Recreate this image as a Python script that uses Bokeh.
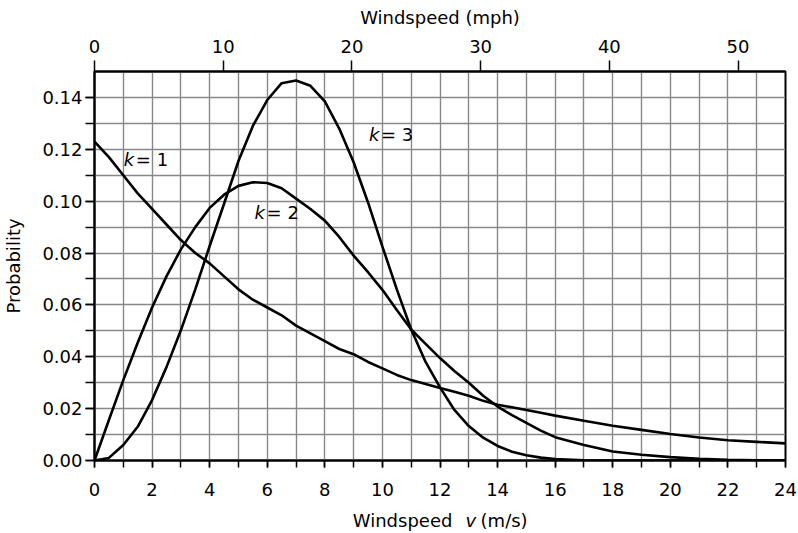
from bokeh.plotting import figure
from bokeh.layouts import column
from bokeh.models import (Range1d, LinearAxis, SingleIntervalTicker, FixedTicker,
                          NumeralTickFormatter, Label)
from bokeh.embed import file_html
from bokeh.resources import INLINE

# Windspeed (m/s)
speed = [0, 0.5, 1, 1.5, 2, 2.5, 3, 3.5, 4, 4.5, 5, 5.5, 6, 6.5, 7, 7.5, 8, 8.5,
         9, 9.5, 10, 10.5, 11, 11.5, 12, 12.5, 13, 13.5, 14, 14.5, 15, 15.5, 16,
         17, 18, 19, 20, 21, 22, 23, 24]

prob_k1 = [0.123, 0.117, 0.110, 0.103, 0.097, 0.091, 0.085, 0.080, 0.076, 0.071,
           0.066, 0.062, 0.059, 0.056, 0.052, 0.049, 0.046, 0.043, 0.041, 0.038,
           0.0355, 0.033, 0.031, 0.0295, 0.028, 0.0265, 0.025, 0.023, 0.0215,
           0.0205, 0.0195, 0.0184, 0.0173, 0.0153, 0.0134, 0.0118, 0.0102,
           0.0089, 0.0078, 0.0072, 0.0066]

prob_k2 = [0.0, 0.0156, 0.031, 0.0454, 0.059, 0.071, 0.0814, 0.090, 0.0974, 0.1025,
           0.1059, 0.1073, 0.1070, 0.1050, 0.1010, 0.0970, 0.0925, 0.0862, 0.0790,
           0.0726, 0.0658, 0.0580, 0.0505, 0.0450, 0.0395, 0.0345, 0.0300, 0.0250,
           0.0208, 0.0175, 0.0145, 0.0115, 0.0090, 0.0060, 0.0035, 0.0022, 0.0013,
           0.0007, 0.0003, 0.0001, 0.0]

prob_k3 = [0.0, 0.001, 0.006, 0.013, 0.0233, 0.036, 0.0502, 0.066, 0.0827, 0.099,
           0.1155, 0.129, 0.139, 0.1455, 0.1465, 0.1445, 0.1385, 0.128, 0.115,
           0.0995, 0.0825, 0.066, 0.0505, 0.038, 0.0282, 0.0195, 0.0133, 0.0088,
           0.0056, 0.0034, 0.0020, 0.0011, 0.0006, 0.0001, 0.0, 0.0, 0.0, 0.0,
           0.0, 0.0, 0.0]

mph_ticks = [0, 10, 20, 30, 40, 50]
curve_labels = [("= 1", 1.02, 0.1160), ("= 2", 5.56, 0.0955), ("= 3", 9.53, 0.1257)]
x_title_parts = [("Windspeed", 12.43, "normal", "right"),
                 ("v", 12.89, "italic", "left"),
                 ("(m/s)", 13.41, "normal", "left")]

FONT = "DejaVu Sans"
FS = "18px"
MS_PER_MPH = 0.44704

p = figure(width=798, height=503, x_range=Range1d(0, 24), y_range=Range1d(0, 0.15),
           output_backend="svg", toolbar_location=None,
           min_border_left=94, min_border_right=13, min_border_top=71,
           min_border_bottom=43)
p.background_fill_color = "white"
p.border_fill_color = "white"
p.outline_line_color = "black"
p.outline_line_width = 2

# grids
p.xgrid.ticker = SingleIntervalTicker(interval=1)
p.ygrid.ticker = SingleIntervalTicker(interval=0.01)
for g in (p.xgrid, p.ygrid):
    g.grid_line_color = "#888888"
    g.grid_line_width = 1.4

# bottom axis
xa = p.xaxis[0]
xa.ticker = SingleIntervalTicker(interval=2, num_minor_ticks=2)
xa.major_tick_out = 7
xa.major_tick_in = 0
xa.minor_tick_out = 7
xa.minor_tick_in = 0
xa.major_label_standoff = 15

# left axis
ya = p.yaxis[0]
ya.ticker = SingleIntervalTicker(interval=0.02, num_minor_ticks=2)
ya.formatter = NumeralTickFormatter(format="0.00")
ya.major_tick_out = 9
ya.major_tick_in = 0
ya.minor_tick_out = 9
ya.minor_tick_in = 0
ya.major_label_standoff = 3
ya.axis_label = "Probability"
ya.axis_label_standoff = 15

# top axis in mph
p.extra_x_ranges = {"mph": Range1d(0, 24 / MS_PER_MPH)}
ta = LinearAxis(x_range_name="mph", ticker=FixedTicker(ticks=mph_ticks),
                axis_label="Windspeed (mph)")
ta.major_tick_out = 11
ta.major_tick_in = 0
ta.minor_tick_out = 0
ta.minor_tick_in = 0
ta.major_label_standoff = 8
ta.axis_label_standoff = 9
p.add_layout(ta, "above")

for ax in (xa, ya, ta):
    ax.axis_line_color = "black"
    ax.axis_line_width = 2
    ax.major_tick_line_color = "black"
    ax.major_tick_line_width = 1.5
    ax.minor_tick_line_color = "black"
    ax.minor_tick_line_width = 1.5
    ax.major_label_text_font = FONT
    ax.major_label_text_font_size = FS
    ax.major_label_text_color = "black"
    ax.axis_label_text_font = FONT
    ax.axis_label_text_font_size = FS
    ax.axis_label_text_font_style = "normal"
    ax.axis_label_text_color = "black"

# curves
for ys in (prob_k1, prob_k2, prob_k3):
    p.line(speed, ys, line_color="black", line_width=2.6)

# curve labels
for rest, lx, ly in curve_labels:
    p.add_layout(Label(x=lx, y=ly, text="k", text_font=FONT, text_font_size=FS,
                       text_font_style="italic", text_baseline="middle",
                       text_align="left", text_color="black"))
    p.add_layout(Label(x=lx, y=ly, x_offset=12, text=rest, text_font=FONT,
                       text_font_size=FS, text_baseline="middle",
                       text_align="left", text_color="black"))

# strip below holding the bottom axis title (with italic v); same frame as p
p2 = figure(width=798, height=30, x_range=Range1d(0, 24), y_range=Range1d(0, 30),
            output_backend="svg", toolbar_location=None,
            x_axis_location=None, y_axis_location=None,
            min_border_left=94, min_border_right=13, min_border_top=0,
            min_border_bottom=0)
p2.grid.visible = False
p2.outline_line_color = None
p2.background_fill_color = "white"
p2.border_fill_color = "white"
for txt, tx, style, align in x_title_parts:
    p2.add_layout(Label(x=tx, y=13, text=txt, text_font=FONT, text_font_size=FS,
                        text_font_style=style, text_baseline="middle",
                        text_align=align, text_color="black"))

layout = column(p, p2, spacing=0)
open("out.html", "w").write(file_html(layout, INLINE))
